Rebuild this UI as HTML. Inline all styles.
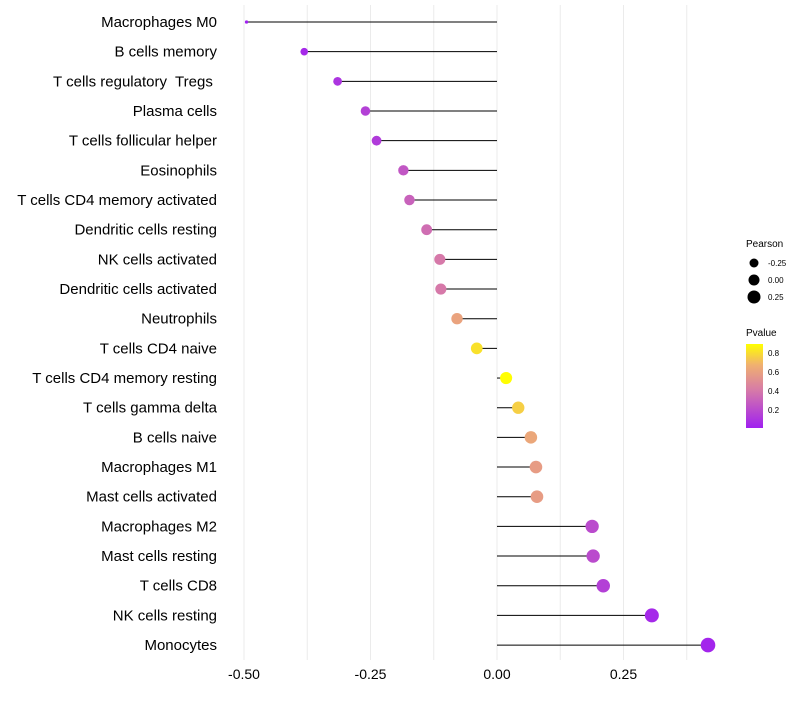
<!DOCTYPE html>
<html><head><meta charset="utf-8"><style>
body{margin:0;background:#fff;font-family:"Liberation Sans",sans-serif}
svg text{font-family:"Liberation Sans",sans-serif;white-space:pre}
</style></head><body>
<svg id="chart" width="800" height="700" xmlns="http://www.w3.org/2000/svg">
<defs><linearGradient id="pg" x1="0" y1="1" x2="0" y2="0">
<stop offset="0" stop-color="#a020f0"/><stop offset="0.45" stop-color="#d67aa8"/><stop offset="0.75" stop-color="#f0b070"/><stop offset="1" stop-color="#ffff00"/></linearGradient></defs>
<g id="grid"></g><g id="marks"></g><g id="ylabels"></g><g id="xlabels"></g>
<g>
<text x="746" y="247" font-size="10">Pearson</text>
<circle cx="754" cy="263" r="4.5" fill="#000"/><text x="768" y="266" font-size="8">-0.25</text>
<circle cx="754" cy="280" r="5.5" fill="#000"/><text x="768" y="283" font-size="8">0.00</text>
<circle cx="754" cy="297" r="6.5" fill="#000"/><text x="768" y="300" font-size="8">0.25</text>
</g>
<g>
<text x="746" y="336" font-size="10">Pvalue</text>
<rect x="746" y="344" width="17" height="84" fill="url(#pg)"/>
<text x="768" y="356" font-size="8">0.8</text>
<text x="768" y="375" font-size="8">0.6</text>
<text x="768" y="394" font-size="8">0.4</text>
<text x="768" y="413" font-size="8">0.2</text>
</g>
</svg>
<script>
const categories=["Macrophages M0","B cells memory","T cells regulatory  Tregs ","Plasma cells","T cells follicular helper","Eosinophils","T cells CD4 memory activated","Dendritic cells resting","NK cells activated","Dendritic cells activated","Neutrophils","T cells CD4 naive","T cells CD4 memory resting","T cells gamma delta","B cells naive","Macrophages M1","Mast cells activated","Macrophages M2","Mast cells resting","T cells CD8","NK cells resting","Monocytes"];
const pearson=[-0.495,-0.381,-0.315,-0.26,-0.238,-0.185,-0.173,-0.139,-0.113,-0.111,-0.079,-0.04,0.018,0.042,0.067,0.077,0.079,0.188,0.19,0.21,0.306,0.417];
const pvalues=[0.01,0.05,0.1,0.15,0.13,0.25,0.3,0.35,0.4,0.4,0.6,0.8,0.88,0.75,0.62,0.57,0.57,0.2,0.2,0.15,0.05,0.03];
const xTicks=[-0.5,-0.25,0,0.25];
const xTickLabels=["-0.50","-0.25","0.00","0.25"];
const NS="http://www.w3.org/2000/svg";
const xs=v=>497+v*506, ys=i=>22+i*29.67;
const rs=v=>7.3*Math.pow(Math.max(0.01,(v+0.5)/0.917),0.32);
const stops=[[0,[160,32,240]],[0.45,[214,122,168]],[0.75,[240,176,112]],[1,[255,255,0]]];
function col(p){let t=(p-0.01)/(0.884-0.01);t=Math.max(0,Math.min(1,t));
for(let k=1;k<stops.length;k++){if(t<=stops[k][0]){const a=stops[k-1],b=stops[k],u=(t-a[0])/(b[0]-a[0]);
return "rgb("+a[1].map((c,j)=>Math.round(c+(b[1][j]-c)*u)).join(",")+")";}}return "rgb(255,255,0)";}
function mk(t,attrs,parent){const e=document.createElementNS(NS,t);for(const k in attrs)e.setAttribute(k,attrs[k]);document.getElementById(parent).appendChild(e);return e;}
for(let v=-0.5;v<=0.38;v+=0.125){const g=mk("line",{x1:xs(v),x2:xs(v),y1:5,y2:660,stroke:"#ebebeb","stroke-width":1},"grid");

}
categories.forEach((c,i)=>{
const y=ys(i);
const l=mk("line",{x1:xs(0),x2:xs(pearson[i]),y1:y,y2:y,stroke:"#000","stroke-width":1},"marks");


const d=mk("circle",{cx:xs(pearson[i]),cy:y,r:rs(pearson[i]),fill:col(pvalues[i])},"marks");


const t=mk("text",{x:217,y:y+5,"text-anchor":"end","font-size":15,fill:"#000"},"ylabels");
t.textContent=c;


});
xTicks.forEach((v,i)=>{
const t=mk("text",{x:xs(v),y:679,"text-anchor":"middle","font-size":14,fill:"#000"},"xlabels");
t.textContent=xTickLabels[i];


});
</script>
</body></html>
